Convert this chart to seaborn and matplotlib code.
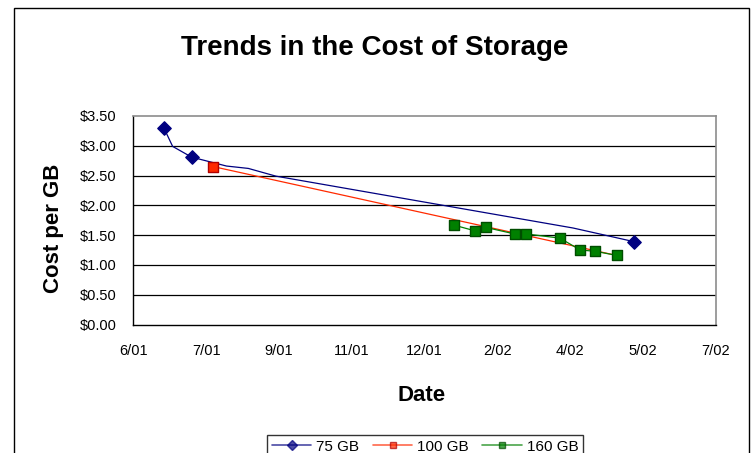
import pandas as pd
import matplotlib
matplotlib.use("Agg")
import matplotlib.pyplot as plt
import matplotlib.dates as mdates
from matplotlib.lines import Line2D
from matplotlib.patches import Rectangle
from matplotlib.ticker import FuncFormatter
import seaborn as sns

# ---- data -------------------------------------------------------------
# 75 GB drives (price points flagged True carry a marker)
gb75_dates = ["2001-06-29", "2001-07-05", "2001-07-18", "2001-08-11",
              "2001-08-26", "2001-09-14", "2002-04-06", "2002-05-18"]
gb75_cost = [3.30, 2.99, 2.81, 2.66, 2.62, 2.49, 1.62, 1.39]
gb75_marked = [True, False, True, False, False, False, False, True]

# 100 GB drives
gb100_dates = ["2001-08-02", "2002-05-04"]
gb100_cost = [2.65, 1.17]
gb100_marked = [True, False]

# 160 GB drives
gb160_dates = ["2002-01-14", "2002-01-29", "2002-02-05", "2002-02-25",
               "2002-03-05", "2002-03-28", "2002-04-11", "2002-04-21",
               "2002-05-06"]
gb160_cost = [1.67, 1.57, 1.63, 1.52, 1.52, 1.45, 1.25, 1.23, 1.16]
gb160_marked = [True] * len(gb160_cost)

series_names = ["75 GB", "100 GB", "160 GB"]
y_ticks = [0.0, 0.5, 1.0, 1.5, 2.0, 2.5, 3.0, 3.5]
axis_start = "2001-06-08"
tick_step_days = 50
n_ticks = 9

# ---- styling ------------------------------------------------------------
line_colors = {"75 GB": "#000080", "100 GB": "#ff2a00", "160 GB": "#008000"}
marker_style = {
    "75 GB": dict(marker="D", face="#000080", edge="#000080", size=6.8),
    "100 GB": dict(marker="s", face="#ff2a00", edge="#b00000", size=6.5),
    "160 GB": dict(marker="s", face="#008000", edge="#004d00", size=7.5),
}

frames = []
for name, d, c, m in zip(series_names,
                         [gb75_dates, gb100_dates, gb160_dates],
                         [gb75_cost, gb100_cost, gb160_cost],
                         [gb75_marked, gb100_marked, gb160_marked]):
    frames.append(pd.DataFrame({"Date": pd.to_datetime(d), "Cost": c,
                                "Drive": name, "marked": m}))
df = pd.concat(frames, ignore_index=True)

sns.set_style("white")
plt.rcParams["font.family"] = ["Liberation Sans", "DejaVu Sans"]
plt.rcParams["text.color"] = "#000000"
plt.rcParams["axes.labelcolor"] = "#000000"

fig = plt.figure(figsize=(7.51, 4.53), dpi=100)
W, H = 751, 453
x0, x1, y_top, y_bot = 133.3, 715.7, 116, 324.5
ax = fig.add_axes([x0 / W, 1 - y_bot / H, (x1 - x0) / W, (y_bot - y_top) / H])

# outer chart frame
fig.patches.append(Rectangle((14 / W, -0.2), (749 - 14) / W, 1.2 - 7.5 / H,
                             transform=fig.transFigure, fill=False,
                             edgecolor="#000000", linewidth=1.0, zorder=0))

# connecting lines
sns.lineplot(data=df, x="Date", y="Cost", hue="Drive", palette=line_colors,
             hue_order=series_names, estimator=None, sort=True,
             linewidth=0.9, legend=False, ax=ax, zorder=3)

# markers on the flagged price points
for name in series_names:
    sub = df[(df["Drive"] == name) & df["marked"]]
    ms = marker_style[name]
    sns.scatterplot(data=sub, x="Date", y="Cost", marker=ms["marker"],
                    s=ms["size"] ** 2, color=ms["face"],
                    edgecolor=ms["edge"], linewidth=1.0, legend=False,
                    ax=ax, zorder=4)

start = pd.Timestamp(axis_start)
ticks = [start + pd.Timedelta(days=tick_step_days * k) for k in range(n_ticks)]
ax.set_xlim(ticks[0], ticks[-1])
ax.set_xticks(ticks)
ax.xaxis.set_major_formatter(
    FuncFormatter(lambda v, _: "{}/{}".format(mdates.num2date(v).month,
                                              mdates.num2date(v).strftime("%y"))))
ax.set_ylim(0, 3.5)
ax.set_yticks(y_ticks)
ax.set_yticklabels(["${:.2f}".format(v) for v in y_ticks])

for y in y_ticks[1:-1]:
    ax.axhline(y, color="#000000", linewidth=0.9, zorder=1)

for side in ["left", "bottom"]:
    ax.spines[side].set_color("#000000")
    ax.spines[side].set_linewidth(1.0)
for side in ["top", "right"]:
    ax.spines[side].set_color("#8c8c8c")
    ax.spines[side].set_linewidth(1.2)
    ax.spines[side].set_visible(True)

ax.tick_params(axis="both", direction="out", length=5, width=0.9,
               color="#000000", labelsize=10.5, labelcolor="#000000")
ax.tick_params(axis="x", pad=9)
ax.tick_params(axis="y", pad=7)
ax.set_xlabel("")
ax.set_ylabel("")

fig.text(375 / W, 1 - 55 / H, "Trends in the Cost of Storage", ha="center",
         va="baseline", fontsize=20, fontweight="bold")
fig.text(422 / W, 1 - 401 / H, "Date", ha="center", va="baseline",
         fontsize=16, fontweight="bold")
fig.text(53 / W, 1 - 228 / H, "Cost per GB", ha="center", va="center",
         rotation=90, fontsize=16, fontweight="bold")

handles = []
for name in series_names:
    ms = marker_style[name]
    handles.append(Line2D([], [], color=line_colors[name], linewidth=1.2,
                          alpha=0.7, marker=ms["marker"], markersize=5,
                          markerfacecolor=ms["face"],
                          markeredgecolor=ms["edge"]))
leg = fig.legend(handles, series_names, loc="upper center",
                 bbox_to_anchor=(425 / W, 1 - 435 / H), borderaxespad=0,
                 ncol=3, fontsize=11, frameon=True, fancybox=False,
                 handlelength=2.6, handletextpad=0.3, columnspacing=0.9,
                 borderpad=0.3)
leg.get_frame().set_edgecolor("#000000")
leg.get_frame().set_linewidth(1.0)

fig.savefig("out.png", dpi=100, facecolor="white")
